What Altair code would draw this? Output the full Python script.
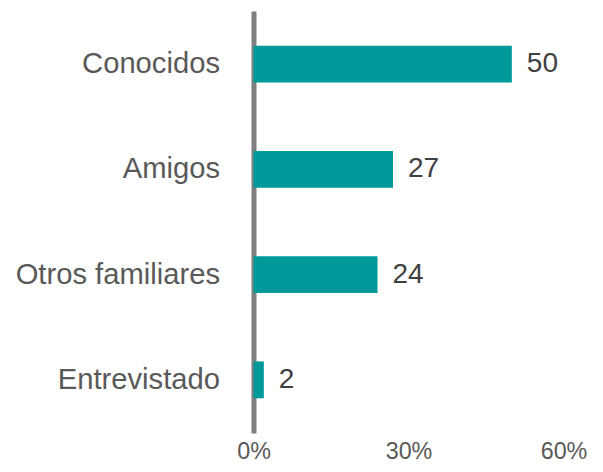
import altair as alt
import pandas as pd

categories = ["Conocidos", "Amigos", "Otros familiares", "Entrevistado"]
values = [50, 27, 24, 2]
x_ticks = [0, 30, 60]

df = pd.DataFrame({"cat": categories, "val": values})

base = alt.Chart(df).encode(
    y=alt.Y("cat:N", sort=categories,
            scale=alt.Scale(paddingInner=0.65, paddingOuter=0.33),
            axis=alt.Axis(title=None, ticks=False, domain=True, domainColor="#7f7f7f",
                          domainWidth=5, labelFontSize=29.2, labelColor="#595959",
                          labelFont="Liberation Sans", labelPadding=34,
                          labelLimit=400, grid=False)),
)

bars = base.mark_bar(color="#009999").encode(
    x=alt.X("val:Q", scale=alt.Scale(domain=[0, 60], nice=False),
            axis=alt.Axis(title=None, values=x_ticks, labelExpr="datum.value + '%'",
                          ticks=False, domain=False, grid=False, labelFontSize=23.3,
                          labelColor="#595959", labelFont="Liberation Sans",
                          labelFlush=False, labelPadding=7)),
)

text = base.mark_text(align="left", baseline="middle", dx=15, fontSize=28,
                      font="Liberation Sans", color="#404040").encode(
    x="val:Q", text="val:Q")

chart = alt.layer(bars, text).properties(
    width=310, height=422,
    autosize=alt.AutoSizeParams(type="none"),
    padding={"left": 245.5, "top": 3, "right": 31, "bottom": 31},
).configure_view(stroke=None)

chart.save("out.html", embed_options={"renderer": "svg", "actions": False})
